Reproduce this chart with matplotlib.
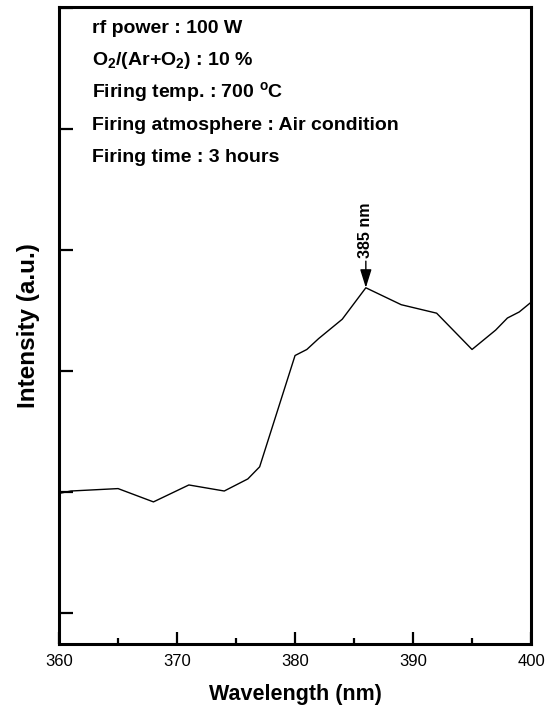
import matplotlib.pyplot as plt
from matplotlib.ticker import MultipleLocator, NullFormatter

plt.rcParams['font.family'] = ['Liberation Sans', 'DejaVu Sans']

wavelength = [360, 361, 365, 368, 371, 374, 376, 377, 380, 381, 382, 384,
              386, 389, 392, 395, 397, 398, 399, 400]
intensity = [0.99, 1.01, 1.03, 0.92, 1.06, 1.01, 1.11, 1.21, 2.13, 2.18,
             2.27, 2.43, 2.69, 2.55, 2.48, 2.18, 2.34, 2.44, 2.49, 2.57]

conditions = [
    'rf power : 100 W',
    r'O$_\mathregular{2}$/(Ar+O$_\mathregular{2}$) : 10 %',
    r'Firing temp. : 700 $^\mathregular{o}$C',
    'Firing atmosphere : Air condition',
    'Firing time : 3 hours',
]
peak_label = '385 nm'

fig = plt.figure(figsize=(5.52, 7.11), dpi=100)
ax = fig.add_axes([0.107, 0.094, 0.855, 0.896])

ax.plot(wavelength, intensity, color='k', lw=1.0)

# arrow at the emission maximum
i_max = intensity.index(max(intensity))
xp, yp = wavelength[i_max], intensity[i_max]
ax.annotate('', xy=(xp, yp), xytext=(xp, yp + 0.22),
            arrowprops=dict(arrowstyle='-|>,head_length=0.8,head_width=0.25',
                            color='k', lw=1.0, mutation_scale=14,
                            shrinkA=0, shrinkB=0))
ax.text(xp, yp + 0.25, peak_label, rotation=90, ha='center', va='bottom',
        fontsize=11.5, fontweight='bold')

for k, line in enumerate(conditions):
    ax.text(0.07, 0.967 - k * 0.0507, line, transform=ax.transAxes,
            fontsize=14, fontweight='bold', va='center', ha='left')

ax.set_xlim(360, 400)
ax.set_ylim(-0.256, 5.01)
ax.xaxis.set_major_locator(MultipleLocator(10))
ax.xaxis.set_minor_locator(MultipleLocator(5))
ax.yaxis.set_major_locator(MultipleLocator(1))
ax.yaxis.set_major_formatter(NullFormatter())

ax.tick_params(axis='x', which='major', direction='in', length=8.5, width=1.6,
               labelsize=12, pad=7)
ax.tick_params(axis='x', which='minor', direction='in', length=4.5, width=1.6)
ax.tick_params(axis='y', which='major', direction='in', length=10, width=1.6)
ax.tick_params(top=False, right=False)
for s in ax.spines.values():
    s.set_linewidth(2.2)

ax.set_xlabel('Wavelength (nm)', fontsize=15.5, fontweight='bold', labelpad=11)
ax.set_ylabel('Intensity (a.u.)', fontsize=17.5, fontweight='bold', labelpad=10)

fig.savefig('out.png', dpi=100)
